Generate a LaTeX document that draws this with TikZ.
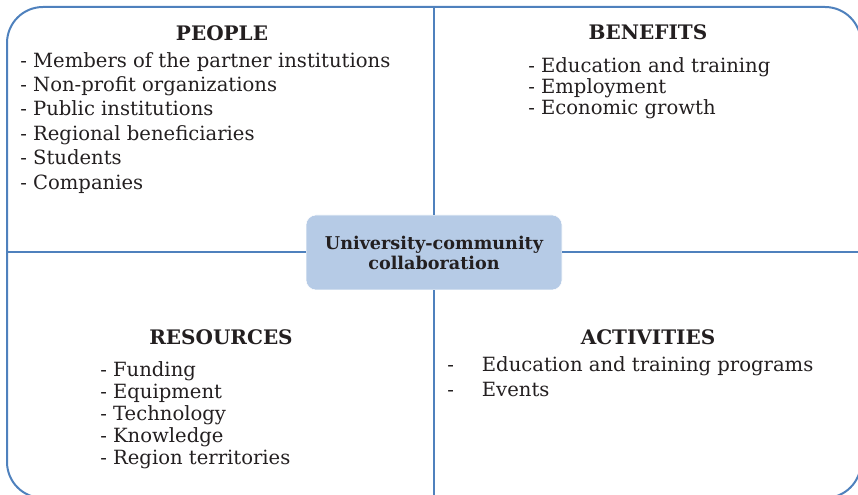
\documentclass[tikz,border=0pt]{standalone}
\usepackage{fontspec}
\setmainfont{DejaVu Serif}
\usetikzlibrary{positioning}

\definecolor{frameblue}{RGB}{79,129,189}
\definecolor{hubfill}{RGB}{182,203,230}
\definecolor{inkgray}{RGB}{35,31,32}

\newcommand{\actdash}{\makebox[26pt][l]{-}}

\begin{document}
\begin{tikzpicture}[x=0.75pt,y=-0.75pt,
        every node/.style={text=inkgray},
        heading/.style={font=\fontsize{15}{18}\selectfont\bfseries, anchor=base},
        itemlist/.style={align=left, inner sep=0pt, anchor=north west},
        link/.style={draw=frameblue, line width=1.5pt}]

        \clip (0,0) rectangle (858,495);

        \node [link, rounded corners=27pt, minimum width=640.5pt, minimum height=368.25pt, inner sep=0pt] at (434,252.5) (frame) {};

        \node [fill=hubfill, draw=white, rounded corners=7.5pt, minimum width=192pt, minimum height=56.25pt, align=center, font=\fontsize{13.2}{15}\selectfont\bfseries] at (434,252.5) (hub) {University-community\\collaboration};

        \draw [link] (hub.north) -- (hub.north |- frame.north);
        \draw [link] (hub.south) -- (hub.south |- frame.south);
        \draw [link] (hub.west) -- (hub.west -| frame.west);
        \draw [link] (hub.east) -- (hub.east -| frame.east);

        % people
        \node [heading] at (222,41) (peopleHead) {PEOPLE};
        \node [itemlist, font=\fontsize{14.7}{18.3}\selectfont] at (20,52) (peopleList) {- Members of the partner institutions\\- Non-profit organizations\\- Public institutions\\- Regional beneficiaries\\- Students\\- Companies};

        % benefits
        \node [heading] at (648,40) (benefitsHead) {BENEFITS};
        \node [itemlist, font=\fontsize{14.7}{15.75}\selectfont] at (528,57) (benefitsList) {- Education and training\\- Employment\\- Economic growth};

        % resources
        \node [heading] at (221,345) (resourcesHead) {RESOURCES};
        \node [itemlist, font=\fontsize{14.7}{16.5}\selectfont] at (100,361) (resourcesList) {- Funding\\- Equipment\\- Technology\\- Knowledge\\- Region territories};

        % activities
        \node [heading] at (648,345) (activitiesHead) {ACTIVITIES};
        \node [itemlist, font=\fontsize{14.7}{18.75}\selectfont] at (447,356) (activitiesList) {\actdash Education and training programs\\\actdash Events};

      \end{tikzpicture}
\end{document}
